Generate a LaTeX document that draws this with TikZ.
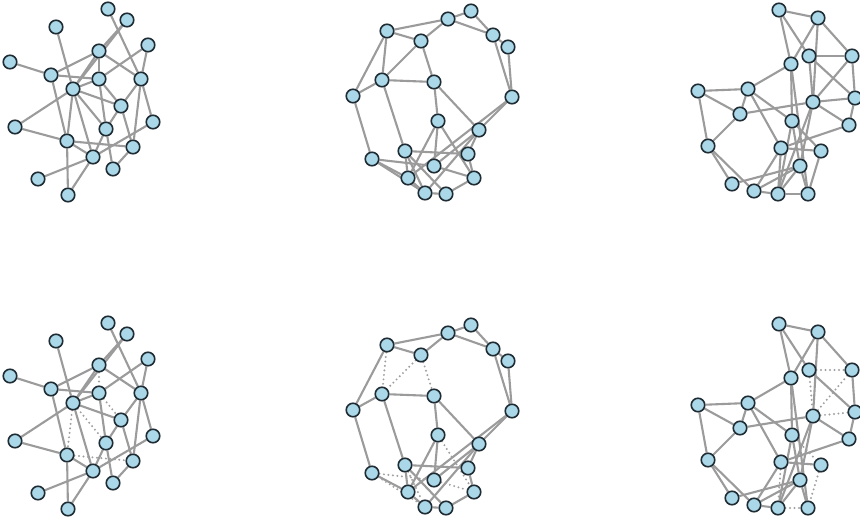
\documentclass[tikz,border=0pt]{standalone}
\definecolor{vfill}{RGB}{170,216,232}
\definecolor{vline}{RGB}{32,44,52}
\definecolor{ecol}{RGB}{155,155,155}
\definecolor{dcol}{RGB}{160,160,160}
\pgfdeclarelayer{bg}
\pgfsetlayers{bg,main}
\tikzset{
  vtx/.style={circle,draw=vline,fill=vfill,line width=1.6pt,minimum size=13.5pt,inner sep=0pt},
  edge/.style={draw=ecol,line width=2.1pt},
  dotedge/.style={draw=dcol,line width=2.2pt,line cap=round,dash pattern=on 0pt off 4.5pt}
}
% panel 1
\def\pOneNodes{A/108/9, B/127/20, C/56/27, D/148/45, E/10/62, F/99/51, G/51/75, H/99/79, I/141/79, J/73/89, K/121/106, L/15/127, M/153/122, N/106/129, O/67/141, P/133/147, Q/93/157, R/113/169, S/38/179, T/68/195}
\def\pOneS{A/I, B/F, B/J, C/J, D/H, D/I, E/G, G/F, G/H, G/O, F/J, F/I, J/H, J/K, J/L, J/Q, H/N, I/K, I/M, I/P, K/N, K/P, N/R, N/Q, O/Q, O/L, Q/M, Q/S, Q/T, T/O, R/P}
\def\pOneD{F/H, J/O, J/N, O/P, H/K}
% panel 2
\def\pTwoNodes{a/471/11, b/448/19, c/387/31, d/421/41, e/493/35, f/508/47, g/382/80, h/434/82, i/353/96, j/512/97, k/438/121, l/479/130, m/405/151, n/468/154, o/372/159, p/434/166, q/408/178, r/474/178, s/425/193, t/446/194}
\def\pTwoS{a/b, a/e, b/e, b/c, b/d, e/f, f/j, e/j, c/d, c/i, g/i, g/h, g/m, h/k, h/l, i/o, j/l, j/q, l/n, l/p, n/r, m/n, k/p, k/q, m/q, o/q, q/s, s/t, t/r, m/t, l/s}
\def\pTwoD{c/g, d/g, d/h, o/p, o/s, k/r, p/r, m/s}
% panel 3
\def\pThreeNodes{A/779/10, B/818/18, C/809/56, D/852/56, E/791/64, F/698/91, G/748/89, H/855/98, I/813/102, J/740/114, K/792/121, L/849/125, M/708/146, N/781/148, O/821/151, P/800/166, Q/732/184, R/754/191, S/778/194, T/808/194}
\def\pThreeS{A/B, A/E, A/C, B/E, B/D, B/I, C/H, D/H, H/L, E/G, E/K, E/T, F/G, F/J, F/M, G/J, G/K, G/N, J/I, J/M, I/P, I/S, K/P, K/S, L/N, M/Q, M/R, N/O, N/R, P/Q, P/R, P/S, P/T, R/S, I/L}
\def\pThreeD{C/D, C/I, D/I, I/H, K/O, N/S, O/T, S/T}
\begin{document}
\begin{tikzpicture}[x=1pt,y=-1pt]
\useasboundingbox (0,0) rectangle (860,522);
\foreach \n/\x/\y in \pOneNodes {\node[vtx] (tA\n) at (\x,\y) {}; \node[vtx] (bA\n) at (\x,\y+314) {};}
\foreach \n/\x/\y in \pTwoNodes {\node[vtx] (tB\n) at (\x,\y) {}; \node[vtx] (bB\n) at (\x,\y+314) {};}
\foreach \n/\x/\y in \pThreeNodes {\node[vtx] (tC\n) at (\x,\y) {}; \node[vtx] (bC\n) at (\x,\y+314) {};}
\begin{pgfonlayer}{bg}
\fill[white] (0,0) rectangle (860,522);
\foreach \a/\b in \pOneS {\draw[edge] (tA\a) -- (tA\b); \draw[edge] (bA\a) -- (bA\b);}
\foreach \a/\b in \pOneD {\draw[edge] (tA\a) -- (tA\b); \draw[dotedge] (bA\a) -- (bA\b);}
\foreach \a/\b in \pTwoS {\draw[edge] (tB\a) -- (tB\b); \draw[edge] (bB\a) -- (bB\b);}
\foreach \a/\b in \pTwoD {\draw[edge] (tB\a) -- (tB\b); \draw[dotedge] (bB\a) -- (bB\b);}
\foreach \a/\b in \pThreeS {\draw[edge] (tC\a) -- (tC\b); \draw[edge] (bC\a) -- (bC\b);}
\foreach \a/\b in \pThreeD {\draw[edge] (tC\a) -- (tC\b); \draw[dotedge] (bC\a) -- (bC\b);}
\end{pgfonlayer}
\end{tikzpicture}
\end{document}
